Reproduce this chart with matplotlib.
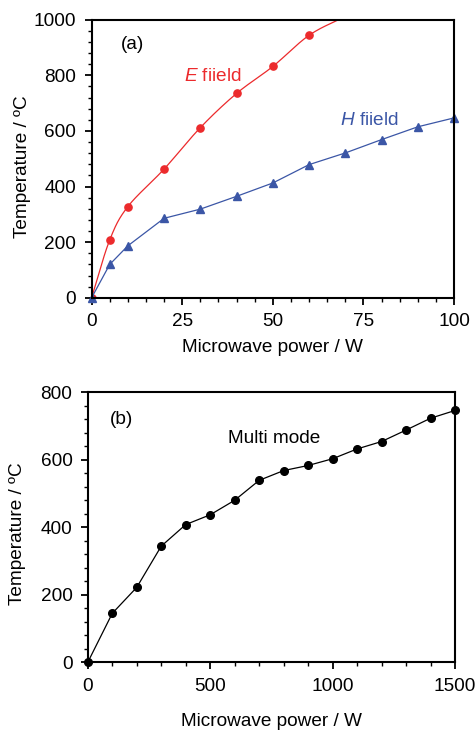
import numpy as np
import matplotlib
matplotlib.use("Agg")
import matplotlib.pyplot as plt
from matplotlib.ticker import MultipleLocator

plt.rcParams['font.family'] = ['Liberation Sans', 'DejaVu Sans']
plt.rcParams['font.size'] = 13.7
plt.rcParams['mathtext.fontset'] = 'custom'
plt.rcParams['mathtext.it'] = 'Liberation Sans:italic'
plt.rcParams['mathtext.rm'] = 'Liberation Sans'

# panel (a) data
power_a = [0, 5, 10, 20, 30, 40, 50, 60, 70]
temp_e = [0, 208, 328, 463, 612, 735, 832, 944, 1012]
power_h = [0, 5, 10, 20, 30, 40, 50, 60, 70, 80, 90, 100]
temp_h = [0, 120, 187, 286, 319, 365, 413, 479, 521, 569, 615, 647]

# panel (b) data
power_b = [0, 100, 200, 300, 400, 500, 600, 700, 800, 900, 1000,
           1100, 1200, 1300, 1400, 1500]
temp_b = [0, 145, 222, 344, 408, 437, 480, 539, 568, 583, 603,
          632, 654, 688, 723, 746]

red = '#ec2a2c'
blue = '#3b56a6'


def smooth(x, y, n=30):
    # catmull-rom curve through the points, just for drawing the line
    x = np.asarray(x, float)
    y = np.asarray(y, float)
    px = np.concatenate([[2 * x[0] - x[1]], x, [2 * x[-1] - x[-2]]])
    py = np.concatenate([[2 * y[0] - y[1]], y, [2 * y[-1] - y[-2]]])
    t = np.linspace(0, 1, n)
    xs, ys = [], []
    for i in range(1, len(px) - 2):
        for p, out in ((px, xs), (py, ys)):
            p0, p1, p2, p3 = p[i - 1], p[i], p[i + 1], p[i + 2]
            out.append(0.5 * (2 * p1 + (-p0 + p2) * t
                              + (2 * p0 - 5 * p1 + 4 * p2 - p3) * t ** 2
                              + (-p0 + 3 * p1 - 3 * p2 + p3) * t ** 3))
    return np.concatenate(xs), np.concatenate(ys)


def style(ax):
    for s in ax.spines.values():
        s.set_linewidth(1.5)
    ax.tick_params(which='major', direction='out', length=5, width=1.3, pad=6)
    ax.tick_params(which='minor', direction='out', length=2.8, width=1.0)


fig = plt.figure(figsize=(4.77, 7.30), dpi=100)

ax1 = fig.add_axes([0.192, 0.592, 0.760, 0.381])
sx, sy = smooth(power_a, temp_e)
ax1.plot(sx, sy, color=red, lw=0.9)
ax1.plot(power_a, temp_e, 'o', color=red, ms=5.2)
ax1.plot(power_h, temp_h, '-^', color=blue, lw=0.9, ms=5.8, clip_on=False)
ax1.set_xlim(0, 100)
ax1.set_ylim(0, 1000)
ax1.xaxis.set_major_locator(MultipleLocator(25))
ax1.xaxis.set_minor_locator(MultipleLocator(5))
ax1.yaxis.set_major_locator(MultipleLocator(200))
ax1.yaxis.set_minor_locator(MultipleLocator(40))
style(ax1)
ax1.set_xlabel('Microwave power / W', va='center')
ax1.xaxis.set_label_coords(0.5, -0.177)
ax1.set_ylabel('Temperature / ºC', va='center')
ax1.yaxis.set_label_coords(-0.19, 0.473)
ax1.text(0.08, 0.91, '(a)', transform=ax1.transAxes, va='center')
ax1.text(25.5, 795, '$\\mathit{E}$ fiield', color=red, va='center')
ax1.text(68.5, 637, '$\\mathit{H}$ fiield', color=blue, va='center')

ax2 = fig.add_axes([0.184, 0.0927, 0.770, 0.370])
ax2.plot(power_b, temp_b, '-o', color='black', lw=0.9, ms=5.5, clip_on=False)
ax2.set_xlim(0, 1500)
ax2.set_ylim(0, 800)
ax2.xaxis.set_major_locator(MultipleLocator(500))
ax2.xaxis.set_minor_locator(MultipleLocator(100))
ax2.yaxis.set_major_locator(MultipleLocator(200))
ax2.yaxis.set_minor_locator(MultipleLocator(40))
style(ax2)
ax2.set_xlabel('Microwave power / W', va='center')
ax2.xaxis.set_label_coords(0.5, -0.22)
ax2.set_ylabel('Temperature / ºC', va='center')
ax2.yaxis.set_label_coords(-0.19, 0.475)
ax2.text(0.06, 0.90, '(b)', transform=ax2.transAxes, va='center')
ax2.text(0.382, 0.83, 'Multi mode', transform=ax2.transAxes, va='center')

fig.savefig('out.png', dpi=100)
